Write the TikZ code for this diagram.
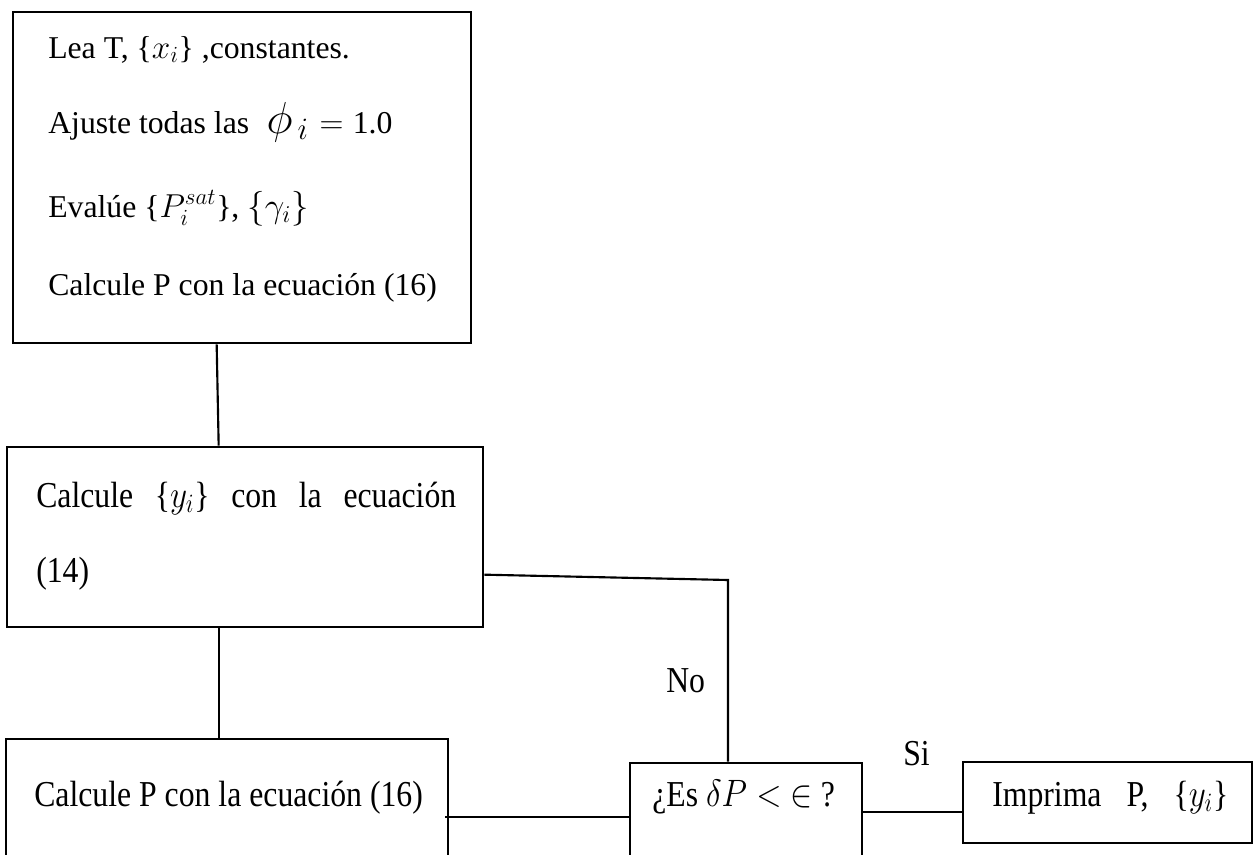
\documentclass[tikz,border=0pt]{standalone}
\usepackage{fontspec}
\setmainfont{Liberation Serif}
\usetikzlibrary{fit,calc}
\newcommand{\tallt}[1]{\scalebox{1}[1.15]{#1}}
\begin{document}
\begin{tikzpicture}[x=0.75pt,y=-0.75pt,
  box/.style={draw, line width=2pt, inner sep=0pt, rectangle},
  conn/.style={draw, line width=1.6pt},
  txt/.style={anchor=base west, inner sep=0pt, font=\fontsize{23.8}{28}\selectfont},
]
\useasboundingbox (0,0) rectangle (1254,854);
\clip (0,0) rectangle (1254,854);
% boxes
\node[box, fit={(13,12) (471,343)}] (b1) {};
\node[box, fit={(7,447) (483,627)}] (b2) {};
\node[box, fit={(6,739) (448,900)}] (b3) {};
\node[box, fit={(630,763) (862,900)}] (dec) {};
\node[box, fit={(963,762) (1252,843)}] (imp) {};
% texts
\node[txt] (t1a) at (48,58) {Lea T, \{$x_i$\} ,constantes.};
\node[txt] (t1b) at (48,133) {Ajuste todas las\hspace{13pt}\scalebox{1.35}{$\phi_{\,i}$}\hspace{8pt}$=$\hspace{7pt}1.0};
\node[txt] (t1c) at (48,217) {Evalúe \{$P_i^{sat}$\}, \scalebox{1.05}{$\{\gamma_i\}$}};
\node[txt] (t1d) at (48,295) {Calcule P con la ecuación (16)};
\node[txt] (t2a) at (36,507) {\tallt{\makebox[315pt][s]{Calcule \{$y_i$\} con la ecuación}}};
\node[txt] (t2b) at (36,582) {\tallt{(14)}};
\node[txt] (t3) at (34,806) {\tallt{Calcule P con la ecuación (16)}};
\node[txt] (tdec) at (652,806) {\tallt{¿Es $\delta P <\; \in$ ?}};
\node[txt] (timp) at (992,806) {\tallt{\makebox[177pt][s]{Imprima \ P, \ \{$y_i$\}}}};
\node[txt] (lno) at (666,692) {\tallt{No}};
\node[txt] (lsi) at (903,765) {\tallt{Si}};
% connectors
\coordinate (corner) at (728,580);
\draw[conn] ($(b1.south west)+(205,0)$) -- ($(b2.north west)+(213,0)$);
\draw[conn] ($(b2.south west)+(213,0)$) -- ($(b3.north west)+(214,0)$);
\draw[conn] ($(b3.north east)+(-4,79)$) -- ($(dec.north west)+(0,55)$);
\draw[conn] ($(dec.north east)+(0,50)$) -- ($(imp.north west)+(0,51)$);
\draw[conn] ($(b2.north east)+(0,129)$) -- (corner) -- (dec.north -| corner);
\end{tikzpicture}
\end{document}
